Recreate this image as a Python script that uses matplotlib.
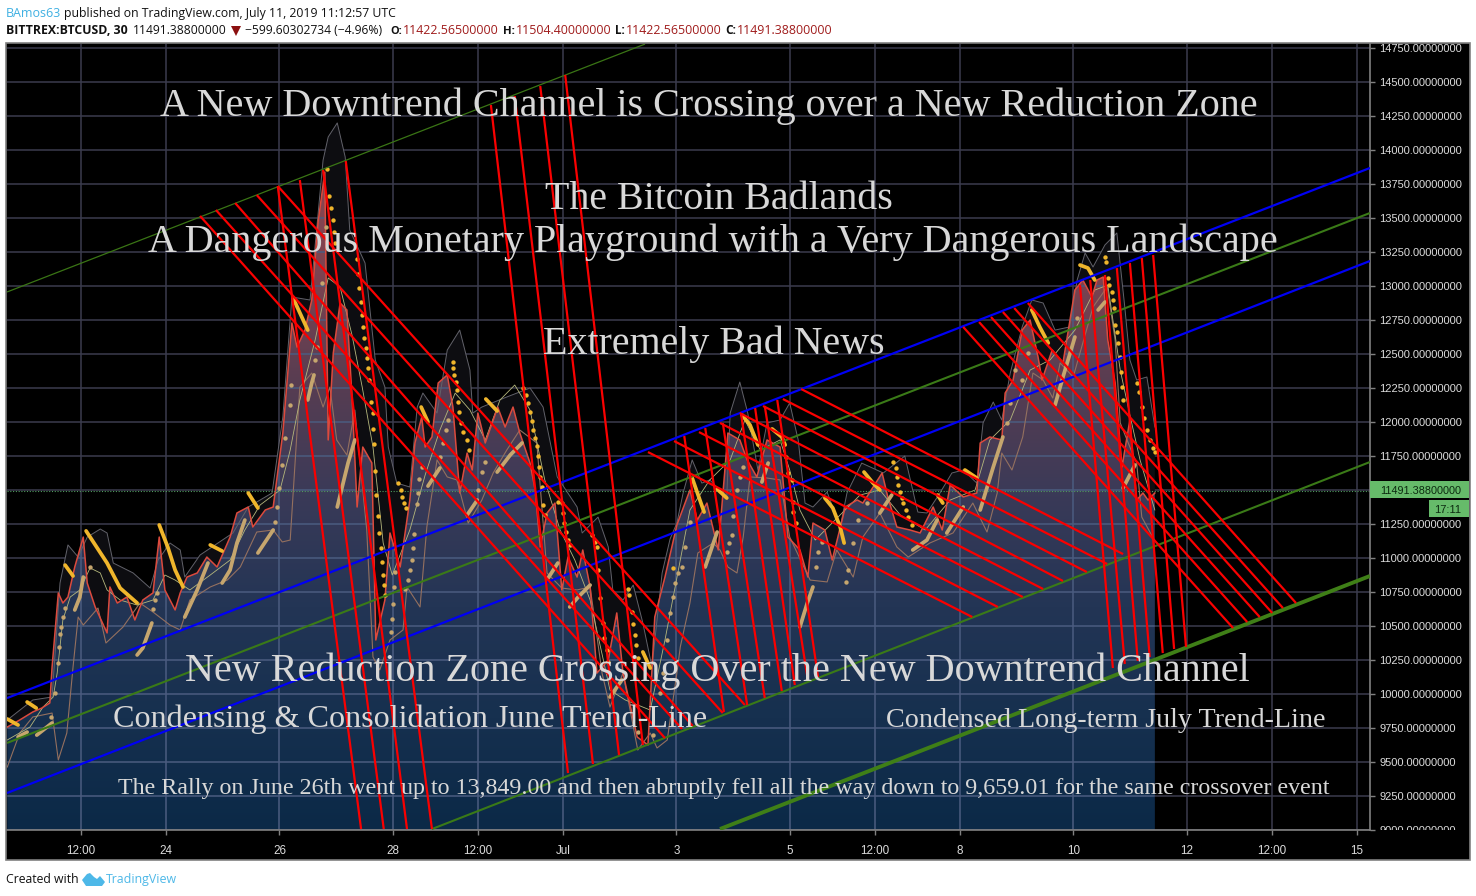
import numpy as np
import matplotlib
matplotlib.use("Agg")
import matplotlib.pyplot as plt
from matplotlib.colors import LinearSegmentedColormap
from matplotlib.patches import Polygon, Rectangle
from matplotlib.path import Path
from matplotlib.patches import PathPatch
from matplotlib.transforms import Bbox

# ---------- data (x = days counted from 31 May, y = price) ----------
close_days = [21.20,21.42,21.65,21.81,21.95,21.99,22.10,22.18,22.27,22.39,22.54,22.61,22.75,22.96,23.01,23.14,23.31,23.45,23.59,23.77,23.88,23.98,24.16,24.25,24.37,24.55,24.72,24.90,25.13,25.25,25.45,25.53,25.75,25.89,26.06,26.22,26.31,26.45,26.57,26.68,26.80,26.86,26.95,27.07,27.19,27.28,27.37,27.47,27.63,27.70,27.86,27.95,28.13,28.30,28.39,28.51,28.57,28.69,28.80,28.96,29.06,29.18,29.31,29.40,29.50,29.63,29.85,29.98,30.12,30.24,30.42,30.51,30.60,30.72,30.86,30.98,31.09,31.25,31.35,31.48,31.60,31.80,31.95,32.06,32.31,32.50,32.62,32.80,33.01,33.24,33.37,33.54,33.74,33.91,34.12,34.25,34.42,34.60,34.83,34.97,35.18,35.32,35.41,35.62,35.75,35.98,36.19,36.29,36.63,36.73,36.89,37.12,37.30,37.53,37.69,37.83,38.06,38.30,38.36,38.53,38.74,38.80,38.94,39.10,39.24,39.38,39.45,39.63,39.82,40.03,40.17,40.33,40.42,40.53,40.61,40.74,40.86,41.00,41.12,41.23,41.32,41.44]
close_prices = [9757,9809,9868,9897,9934,10198,10743,10669,10713,10934,11154,10816,10640,10449,10787,10669,10713,10544,10691,10743,11154,10765,10618,10743,10860,10890,11007,10934,11154,11331,11375,11228,11353,11375,11919,12728,12551,12676,12897,13463,13838,11868,12507,12875,12824,12184,11375,11816,11699,10397,10691,11184,10934,11427,11846,12037,11816,11890,12287,12346,12110,11478,11772,11647,12066,11846,12110,11963,12110,11919,11699,11500,11081,11331,11404,10765,11007,10860,11059,10787,10154,10250,10596,10154,9684,9625,10566,10860,11243,11500,11279,11404,11059,11919,11868,11721,11596,11868,11816,11154,11059,10860,11257,11206,10985,11375,11427,11404,11625,11449,11228,11206,11184,11375,11206,11537,11449,11478,11846,11890,11868,12213,12309,12676,12750,12478,12309,12530,12434,12971,13044,12919,13044,13066,12603,12287,11669,12015,11426,11478,11426,11478]

upper_days = [21.20,21.65,21.99,22.13,22.27,22.45,22.61,22.84,22.96,23.07,23.42,23.72,23.86,24.07,24.25,24.33,24.60,25.18,25.45,25.87,26.06,26.22,26.54,26.77,26.86,27.02,27.16,27.24,27.51,27.69,27.86,27.92,28.07,28.30,28.43,28.53,28.78,28.96,29.18,29.36,29.41,29.57,30.01,30.42,30.65,30.90,31.25,31.34,31.62,31.80,31.88,32.06,32.24,32.41,32.57,32.75,32.89,33.01,33.12,33.28,33.45,33.59,33.89,33.95,34.12,34.26,34.44,34.60,34.83,35.00,35.15,35.27,35.41,35.66,35.89,36.01,36.27,36.65,37.03,37.26,37.42,37.65,37.86,38.06,38.30,38.41,38.59,38.74,38.89,39.10,39.27,39.47,39.68,39.94,40.07,40.21,40.35,40.56,40.77,40.91,41.00,41.12,41.30,41.44]
upper_prices = [9809,9956,9978,10816,11096,11007,11154,11213,11184,10963,10890,10779,10985,11110,11059,10860,11022,11184,11375,11478,12037,12919,12897,13926,14096,14199,13949,13412,13169,12456,12257,11816,11551,11522,12110,12213,12066,12529,12676,12382,12066,12110,12184,12250,12110,11596,11375,11184,11301,11081,10765,10691,10801,10522,10199,10890,11140,11257,11478,11721,11551,11574,11449,12066,12294,12066,11647,11993,12015,12140,11868,11404,11375,11485,11228,11478,11698,11625,11750,11338,11331,11478,11625,11647,11551,11993,12147,12015,12360,12699,12897,12875,12676,12699,13044,13243,13140,13302,13390,12846,12456,12309,12331,11963]

lower_days = [21.20,21.42,21.65,21.99,22.10,22.25,22.36,22.45,22.54,22.80,22.94,23.24,23.54,23.77,24.07,24.25,24.42,24.78,25.08,25.31,25.60,25.89,26.05,26.19,26.36,26.57,26.77,26.89,27.01,27.19,27.33,27.54,27.65,27.77,27.95,28.18,28.25,28.48,28.60,28.78,28.96,29.13,29.33,29.57,29.77,30.01,30.24,30.54,30.72,30.98,31.25,31.48,31.69,31.83,32.06,32.32,32.54,32.66,32.84,33.01,33.07,33.24,33.38,33.65,33.77,33.91,34.07,34.18,34.30,34.60,34.83,35.00,35.36,35.66,35.83,36.12,36.29,36.59,36.89,37.09,37.47,37.88,38.23,38.48,38.66,38.74,38.92,39.11,39.29,39.47,39.64,39.77,40.00,40.35,40.60,40.74,40.83,41.00,41.12,41.21,41.41]
lower_prices = [9463,9713,9831,9860,9515,9713,10199,10566,10507,10632,10375,10492,10669,10603,10507,10471,10691,10787,10838,10934,11191,11206,11118,11132,12257,12360,12110,12257,11868,11757,12088,11206,10272,10177,10397,10471,10787,10640,11228,11721,11596,11574,11257,11426,11625,11794,11941,11846,10890,10779,10765,10787,10154,9904,10154,9588,9713,9603,9662,10154,10346,10669,11037,11110,11059,10934,10890,11154,11596,11588,11574,11154,10838,10824,11059,10860,11154,11331,11081,11007,11110,11184,11404,11191,11478,11772,11647,11890,12360,12309,12176,12434,12331,12846,12993,12603,11993,11816,11698,11301,11147]

basis_days = [21.20,21.60,21.83,22.01,22.08,22.18,22.31,22.48,22.66,22.84,22.96,23.19,23.49,23.77,23.98,24.16,24.42,24.78,25.13,25.39,25.66,26.01,26.19,26.36,26.63,26.86,27.07,27.28,27.46,27.65,27.83,27.99,28.30,28.57,28.83,29.10,29.36,29.63,29.89,30.15,30.42,30.68,30.95,31.21,31.48,31.83,32.10,32.54,32.80,33.07,33.24,33.59,33.95,34.21,34.48,34.83,35.00,35.18,35.45,35.80,36.24,36.59,36.95,37.39,37.83,38.27,38.53,38.89,39.24,39.59,40.03,40.38,40.61,40.83,41.00,41.18,41.44]
basis_prices = [9662,9757,9904,9978,10154,10544,10713,10765,10927,10890,10765,10691,10654,10691,10875,10838,10765,10875,10985,11206,11390,11500,11794,12162,12603,13059,12993,12640,12257,11816,11110,10875,11206,11610,11941,12213,12088,11868,12162,12272,12088,11574,11206,10985,10691,10029,9956,9882,10397,10985,11353,11574,11721,12015,11794,11868,11647,11353,11132,11279,11463,11500,11316,11206,11426,11500,11868,12015,12382,12456,12676,12970,13007,12382,12051,11720,11353]

sar_high_runs = [
 [(21.20,9816),(21.39,9772)], [(21.55,9941),(21.71,9897)], [(22.22,10948),(22.36,10868)],
 [(22.59,11199),(22.96,10963),(23.19,10779),(23.49,10669)],
 [(23.88,11243),(24.03,11081),(24.16,10912),(24.30,10787)],
 [(24.78,11096),(24.99,11051)], [(25.45,11478),(25.62,11368)], [(26.24,12912),(26.50,12676)],
 [(28.50,12110),(28.62,12000)], [(29.64,12169),(29.84,12081)], [(32.41,10309),(32.54,10191)],
 [(33.28,11588),(33.49,11338)], [(33.72,11507),(33.89,11441)],
 [(34.16,12051),(34.30,11978),(34.44,11831)], [(34.69,11949),(34.86,11890),(34.92,11831)],
 [(35.62,11441),(35.76,11368),(35.89,11228),(35.96,11110)],
 [(36.31,11632),(36.47,11551),(36.59,11500)], [(37.61,11463),(37.70,11404)], [(38.09,11647),(38.30,11588)],
 [(39.27,12824),(39.41,12699),(39.56,12581)], [(40.12,13154),(40.26,13132),(40.38,13044)],
]
sar_high_dots = [(26.84,13860),(26.87,13662),(26.91,13574),(26.94,13485),(26.96,13397),(26.98,13316),(27.37,13198),(27.39,13088),(27.40,12985),(27.44,12882),(27.46,12787),(27.47,12699),(27.49,12618),(27.53,12544),(27.54,12471),(27.56,12397),(27.58,12309),(27.61,12147),(27.65,12066),(27.65,11949),(27.67,11838),(27.69,11640),(27.70,11463),(27.74,11309),(27.76,11184),(27.79,11074),(27.81,10971),(27.83,10875),(27.84,10801),(27.86,10728),
 (28.09,11551),(28.14,11500),(28.16,11448),(28.20,11404),(28.23,11368),
 (29.06,12441),(29.06,12397),(29.08,12346),(29.11,12294),(29.13,12235),(29.15,12147),(29.17,12074),(29.20,11993),(29.24,11926),(29.31,11868),(29.34,11794),
 (30.30,12250),(30.35,12199),(30.38,12140),(30.42,12074),(30.45,12007),(30.47,11941),(30.51,11882),(30.54,11823),(30.56,11750),(30.58,11669),(30.60,11596),(30.63,11522),(30.65,11390),(30.68,11316),
 (30.91,11412),(30.98,11404),(31.00,11331),(31.02,11257),(31.05,11191),(31.09,11132),(31.12,11096),
 (31.51,11169),(31.57,11118),(31.60,11081),(31.62,10912),(31.65,10706),(31.71,10522),(31.72,10412),(31.78,10324),(31.80,10235),
 (32.15,10772),(32.17,10728),(32.22,10603),(32.24,10515),(32.27,10434),(32.29,10360),(32.32,10265),(32.94,10926),
 (34.94,11743),(34.97,11625),(35.04,11574),(35.06,11412),(35.06,11338),(35.11,11257),
 (36.82,11706),(36.87,11662),(36.89,11596),(36.91,11537),(36.95,11485),(36.98,11441),(37.00,11404),(37.05,11353),(37.09,11301),(37.16,11243),
 (40.56,13213),(40.58,13177),(40.61,13059),(40.63,13007),(40.68,12956),(40.70,12897),(40.72,12838),(40.74,12713),(40.77,12662),(40.79,12581),(40.83,12478),(40.84,12368),(40.86,12257),(40.88,12162),
 (41.12,12287),(41.16,12221),(41.21,12110),(41.25,12029),(41.30,11941),(41.35,11868),(41.41,11809),(41.44,11780)]

sar_low_runs = [
 [(21.39,9684),(21.55,9720)], [(21.72,9698),(21.99,9787)], [(22.39,10618),(22.48,10713),(22.54,10860)],
 [(23.49,10287),(23.59,10338),(23.75,10522)], [(24.33,10566),(24.55,10765),(24.74,10963)],
 [(24.99,10816),(25.13,10912),(25.25,11110),(25.39,11279)], [(25.62,11037),(25.89,11206)],
 [(26.50,12162),(26.57,12287),(26.61,12346)], [(27.02,11375),(27.21,11698),(27.33,11868)],
 [(28.62,11529),(28.83,11662)], [(29.31,11316),(29.49,11426)], [(29.84,11632),(30.07,11757),(30.28,11846)],
 [(30.74,10853),(30.91,10963)], [(31.12,10640),(31.27,10713),(31.48,10801)], [(31.83,9978),(32.04,10103)],
 [(33.51,10934),(33.63,11081),(33.72,11191)], [(34.51,11559),(34.62,11698)],
 [(35.18,10493),(35.31,10669),(35.41,10787)], [(36.59,11331),(36.80,11463)],
 [(37.17,11059),(37.42,11132),(37.60,11279)], [(37.77,11184),(38.06,11375)],
 [(38.36,11353),(38.59,11669),(38.76,11890)], [(39.68,12125),(39.82,12331),(40.03,12625)],
 [(40.44,12824),(40.56,12882)], [(40.88,11515),(41.09,11684)],
]
sar_low_dots = [(21.97,9831),(22.04,10007),(22.10,10228),(22.11,10346),(22.13,10441),(22.15,10492),(22.18,10566),(22.22,10632),(22.66,10934),(23.77,10625),(23.81,10691),(23.84,10743),(25.92,11265),(25.96,11375),(25.99,11515),(26.05,11684),(26.10,11882),(26.19,12125),(26.20,12272),(26.63,12456),(26.66,12551),(26.75,13022),(26.82,13434),
 (27.97,10456),(27.99,10551),(28.00,10662),(28.02,10787),(28.04,10897),
 (28.21,10772),(28.27,10838),(28.30,10912),(28.34,10985),(28.36,11074),(28.37,11177),(28.43,11397),(28.44,11478),(28.46,11581),(28.51,11669),
 (28.83,11743),(28.89,11846),(28.94,11941),(28.97,12015),(29.50,11500),(29.57,11632),(29.63,11706),
 (32.32,9720),(32.59,9699),(32.71,10007),(32.77,10154),(32.84,10397),(32.89,10596),(32.94,10713),(32.98,10816),(33.03,10890),(33.10,10934),(33.15,11081),(33.24,11265),
 (33.89,11044),(33.93,11110),(33.98,11169),(34.00,11309),(34.07,11500),(34.12,11596),(34.18,11669),
 (35.46,10934),(35.50,11044),(35.57,11118),(35.99,10824),(36.03,10912),(36.12,11110),(36.20,11279),(36.36,11404),
 (38.83,11993),(38.89,12140),(38.97,12382),(39.10,12309),(39.20,12507),(40.07,12765)]

# trend lines as (start day, start price, end day, end price)
blue_lines = [(21.195,9970,45.235,13868),(21.195,9272,45.235,13184)]
green_thin = [(21.195,12956,32.448,14779)]
green_mid = [(21.195,9640,45.235,13537),(28.69,9007,45.235,11706)]
green_thick = [(33.77,9007,45.235,10868)]
red_lines = [
 (24.60,13515,32.80,9676),(24.88,13559,33.10,9743),(25.22,13610,33.29,9765),(25.60,13669,33.82,9860),(25.97,13735,34.21,9919),
 (25.97,13735,27.44,9007),(26.36,13779,27.84,9007),(26.77,13853,28.25,9007),(27.17,13919,28.69,9007),
 (29.73,14331,31.09,9419),(30.15,14397,31.53,9485),(30.60,14471,31.99,9551),(31.04,14552,32.41,9625),
 (32.50,11779,38.22,10566),(32.96,11860,38.67,10640),(33.40,11926,39.11,10713),(33.77,11993,39.47,10772),
 (34.12,12066,39.82,10831),(34.53,12118,40.24,10897),(34.88,12169,40.60,10956),(35.20,12243,40.88,11029),
 (33.14,11897,33.84,9868),(33.51,11956,34.25,9919),(33.82,11993,34.56,9971),(34.14,12066,34.86,10022),
 (34.39,12103,35.09,10066),(34.56,12118,35.32,10103),(34.78,12162,35.50,10125),
 (38.06,12699,42.82,10485),(38.34,12735,43.07,10529),(38.55,12772,43.29,10566),(38.76,12809,43.51,10596),
 (38.96,12838,43.70,10632),(39.20,12875,43.93,10669),
 (40.12,13007,40.70,10191),(40.30,13044,40.91,10221),(40.56,13081,41.14,10243),(40.77,13132,41.35,10272),
 (41.00,13169,41.58,10301),(41.21,13206,41.78,10331),(41.41,13228,41.99,10346),
]
last_price = 11491.388
price_ticks = list(range(9000, 14751, 250))
time_ticks = [22.5,24,26,28,29.5,31,33,35,36.5,38,40,42,43.5,45]
time_labels = ['12:00','24','26','28','12:00','Jul','3','5','12:00','8','10','12','12:00','15']

W, H = 1476, 896
fig = plt.figure(figsize=(W/100, H/100), dpi=100, facecolor='white')
fx = lambda px: px / W
fy = lambda py: 1 - py / H
frame = Rectangle((fx(6.5), fy(859.5)), fx(1470)-fx(6.5), fy(43.5)-fy(859.5), transform=fig.transFigure,
                  facecolor='black', edgecolor='#808080', lw=1.2, zorder=-5)
fig.add_artist(frame)

ax = fig.add_axes([fx(7), fy(830), fx(1370)-fx(7), fy(44)-fy(830)], facecolor='black')
ax.set_xlim(21.195, 45.235)
ax.set_ylim(9000, 14779.5)
for s in ['top', 'left']:
    ax.spines[s].set_visible(False)
for s in ['right', 'bottom']:
    ax.spines[s].set_color('#808080'); ax.spines[s].set_linewidth(1.2)
ax.set_xticks(time_ticks); ax.set_xticklabels(time_labels)
ax.set_yticks(price_ticks); ax.set_yticklabels(['' if v == 11500 else f'{v:.8f}' for v in price_ticks])
ax.yaxis.tick_right()
ax.tick_params(axis='x', colors='#808080', length=3.5, width=1, labelcolor='#dcdcdc', labelsize=8.4, pad=7)
ax.tick_params(axis='y', colors='#808080', length=3.5, width=1, labelcolor='#dcdcdc', labelsize=8.0, pad=3)
for lab in ax.get_xticklabels():
    lab.set_family('Liberation Sans')
for lab in ax.get_yticklabels():
    lab.set_family('Liberation Sans')
    lab.set_clip_on(True)
    lab.set_clip_box(Bbox([[0, H-830], [W, H-44]]))
ax.set_axisbelow(True)
ax.grid(True, color='#3b3c4e', lw=1.1)

# dark band behind the area
band = np.array(list(zip(upper_days, upper_prices)) + [(upper_days[-1], 9000), (upper_days[0], 9000)])
ax.add_patch(Polygon(band, closed=True, facecolor='#0d0d11', edgecolor='none', zorder=1.2))

# gradient area below close
cmap = LinearSegmentedColormap.from_list('area', ['#0b2947', '#16304f', '#233555', '#3a3a58', '#573d52', '#7d4350', '#8a4550'])
poly = np.array(list(zip(close_days, close_prices)) + [(close_days[-1], 9000), (close_days[0], 9000)])
clip = PathPatch(Path(poly, closed=False), transform=ax.transData, facecolor='none', edgecolor='none')
ax.add_patch(clip)
im = ax.imshow(np.linspace(1, 0, 256).reshape(-1, 1), extent=(21.195, 45.235, 9000, 13900),
               aspect='auto', cmap=cmap, zorder=1.4, interpolation='bilinear')
im.set_clip_path(clip)
ax.set_xlim(21.195, 45.235); ax.set_ylim(9000, 14779.5)
for v in price_ticks:
    g = ax.axhline(v, color='#4b5c80', lw=1.1, zorder=1.5); g.set_clip_path(clip)
for v in time_ticks:
    g = ax.axvline(v, color='#4b5c80', lw=1.1, zorder=1.5); g.set_clip_path(clip)

ax.plot(upper_days, upper_prices, color='#62626a', lw=0.7, zorder=2)
ax.plot(lower_days, lower_prices, color='#94705f', lw=0.8, zorder=2)
ax.plot(basis_days, basis_prices, color='#b5b77c', lw=0.6, zorder=2)
ax.plot(close_days, close_prices, color='#dc4a3d', lw=1.1, zorder=2.2)
ax.axhline(last_price, color='#4f9a5e', lw=0.8, ls=(0, (1, 1.5)), zorder=2.3)

for run in sar_high_runs:
    d, p = zip(*run); ax.plot(d, p, color='#f0b62c', lw=2.7, solid_capstyle='round', zorder=2.6)
for run in sar_low_runs:
    d, p = zip(*run); ax.plot(d, p, color='#c6a66e', lw=2.7, solid_capstyle='round', zorder=2.5)
d, p = zip(*sar_high_dots); ax.scatter(d, p, s=10, color='#f0b62c', lw=0, zorder=2.6)
d, p = zip(*sar_low_dots); ax.scatter(d, p, s=10, color='#c6a66e', lw=0, zorder=2.5)

def draw_lines(lines, color, lw, z=3):
    for a, b, c, e in lines:
        ax.plot([a, c], [b, e], color=color, lw=lw, zorder=z, solid_capstyle='butt')
draw_lines(green_thin, '#3a7515', 0.9)
draw_lines(green_mid, '#3a7a17', 1.5)
draw_lines(green_thick, '#3f7f17', 2.8)
draw_lines(blue_lines, '#0000f5', 1.6, 3.1)
draw_lines(red_lines, '#fa0000', 1.6, 3.2)

renderer = fig.canvas.get_renderer()
def fit(s, x0, x1, base, color, family, weight='normal', start=20):
    t = fig.text(fx(x0), fy(base), s, color=color, family=family, weight=weight,
                 fontsize=start, ha='left', va='baseline', zorder=10)
    w = t.get_window_extent(renderer).width
    t.set_fontsize(start * (x1 - x0) / w)
    return t

serif = 'Liberation Serif'
tc = '#d8d8d8'
fit('A New Downtrend Channel is Crossing over a New Reduction Zone', 160, 1260, 116, tc, serif)
fit('The Bitcoin Badlands', 545, 893, 209, tc, serif)
fit('A Dangerous Monetary Playground with a Very Dangerous Landscape', 148, 1278, 252, tc, serif)
fit('Extremely Bad News', 543, 885, 354, tc, serif)
fit('New Reduction Zone Crossing Over the New Downtrend Channel', 185, 1249, 681, tc, serif)
fit('Condensing & Consolidation June Trend-Line', 113, 707, 727, tc, serif)
fit('Condensed Long-term July Trend-Line', 886, 1326, 727, tc, serif)
fit('The Rally on June 26th went up to 13,849.00 and then abruptly fell all the way down to 9,659.01 for the same crossover event',
    118, 1327, 794, tc, serif)

# right-axis labels
fig.add_artist(Rectangle((fx(1370), fy(498)), fx(99), fy(481)-fy(498), transform=fig.transFigure, facecolor='#66bb6a', edgecolor='none', zorder=9))
fig.add_artist(Rectangle((fx(1429), fy(517)), fx(40), fy(500)-fy(517), transform=fig.transFigure, facecolor='#66bb6a', edgecolor='none', zorder=9))
fit('11491.38800000', 1380, 1461, 494, '#0c2a10', 'Liberation Sans')
fit('17:11', 1434, 1461, 513, '#0c2a10', 'Liberation Sans')

# header
hf = 'Open Sans'; dark = '#111111'; red = '#a01c1c'
fit('BAmos63', 6, 61, 17, '#3fb0e2', hf)
fit('published on TradingView.com, July 11, 2019 11:12:57 UTC', 64, 394, 17, dark, hf)
fit('BITTREX:BTCUSD, 30', 6, 127, 34, dark, hf, 'bold')
fit('11491.38800000', 133, 226, 34, dark, hf)
fig.add_artist(Polygon([[fx(231), fy(26)], [fx(241), fy(26)], [fx(236), fy(36)]], closed=True, transform=fig.transFigure, facecolor='#8b0f0f', edgecolor='none'))
fit('\u2212599.60302734 (\u22124.96%)', 245, 382, 34, dark, hf)
fit('O:', 390, 402, 34, dark, hf, 'bold')
fit('11422.56500000', 403, 498, 34, red, hf)
fit('H:', 503, 515, 34, dark, hf, 'bold')
fit('11504.40000000', 516, 611, 34, red, hf)
fit('L:', 615, 625, 34, dark, hf, 'bold')
fit('11422.56500000', 626, 721, 34, red, hf)
fit('C:', 725, 736, 34, dark, hf, 'bold')
fit('11491.38800000', 737, 832, 34, red, hf)

# footer
fit('Created with', 6, 79, 883, dark, hf)
logo = [[82,880],[87,874],[90,873],[94,877],[97,879],[100,876],[105,882],[102,886],[86,886]]
fig.add_artist(Polygon([[fx(a), fy(b)] for a, b in logo], closed=True, transform=fig.transFigure, facecolor='#4db8e8', edgecolor='none'))
fit('TradingView', 106, 177, 883, '#4db8e8', hf)

fig.savefig('out.png', dpi=100, facecolor='white')
